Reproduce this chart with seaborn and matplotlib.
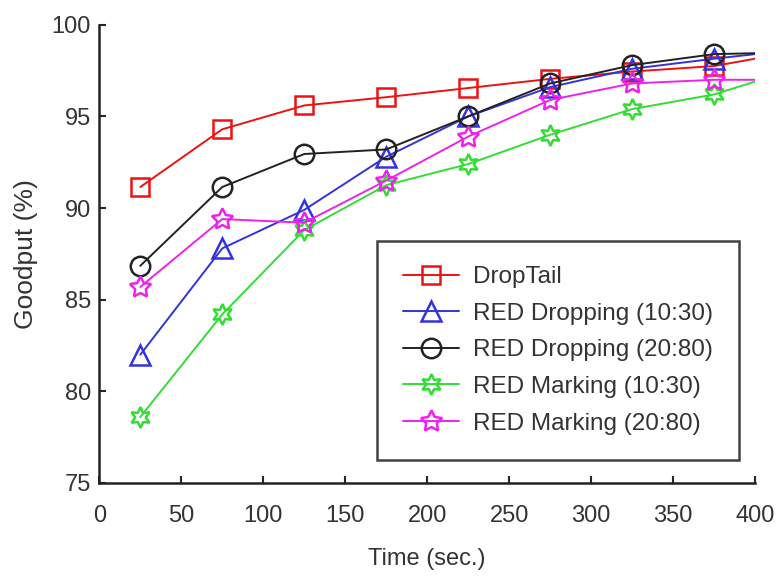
import matplotlib
matplotlib.use("Agg")
import matplotlib.pyplot as plt
from matplotlib.lines import Line2D
import seaborn as sns
import pandas as pd

# Goodput over time for each queue management scheme
time_sec = [25, 75, 125, 175, 225, 275, 325, 375, 400]
droptail = [91.15, 94.3, 95.6, 96.05, 96.55, 97.05, 97.45, 97.75, 98.15]
red_drop_10_30 = [82.0, 87.8, 89.9, 92.8, 95.0, 96.6, 97.6, 98.15, 98.4]
red_drop_20_80 = [86.85, 91.15, 92.95, 93.2, 95.0, 96.8, 97.8, 98.4, 98.45]
red_mark_10_30 = [78.6, 84.2, 88.8, 91.25, 92.4, 94.0, 95.4, 96.2, 96.9]
red_mark_20_80 = [85.7, 89.4, 89.2, 91.5, 93.9, 95.9, 96.8, 97.0, 97.0]

series_names = ["DropTail", "RED Dropping (10:30)", "RED Dropping (20:80)",
                "RED Marking (10:30)", "RED Marking (20:80)"]
series_values = [droptail, red_drop_10_30, red_drop_20_80,
                 red_mark_10_30, red_mark_20_80]

colors = ["#ee1111", "#3333dd", "#222222", "#33dd33", "#ee22ee"]
markers = ["s", "^", "o", (6, 1, 0), (5, 1, 0)]
msizes = [13, 14, 14, 15, 16]

sns.set_theme(style="ticks")
plt.rcParams["font.family"] = ["Liberation Sans", "DejaVu Sans"]
text_color = "#333333"

fig = plt.figure(figsize=(7.76, 5.77), dpi=100)
ax = fig.add_axes([0.128, 0.163, 0.845, 0.794])

handles = []
for name, vals, c, m, ms in zip(series_names, series_values, colors, markers, msizes):
    df = pd.DataFrame({"Time": time_sec, "Goodput": vals})
    sns.lineplot(data=df, x="Time", y="Goodput", ax=ax, color=c, lw=1.4,
                 marker=m, markersize=ms, markerfacecolor="none",
                 markeredgecolor=c, markeredgewidth=1.8,
                 markevery=list(range(len(vals) - 1)), legend=False)
    handles.append(Line2D([0], [0], color=c, lw=1.4, marker=m, markersize=ms,
                          markerfacecolor="none", markeredgecolor=c,
                          markeredgewidth=1.8, label=name))

ax.set_xlim(0, 400)
ax.set_ylim(75, 100)
ax.set_xticks(range(0, 401, 50))
ax.set_yticks(range(75, 101, 5))
ax.tick_params(direction="in", length=5, width=1.5, labelsize=17,
               labelcolor=text_color)
ax.tick_params(axis="x", pad=16)
ax.tick_params(axis="y", pad=6)
for side in ["left", "bottom"]:
    ax.spines[side].set_linewidth(1.8)
    ax.spines[side].set_color("#222222")
sns.despine(ax=ax)

ax.set_xlabel("Time (sec.)", fontsize=17, color=text_color, labelpad=15)
ax.set_ylabel("Goodput (%)", fontsize=19, color=text_color, labelpad=10)

leg = ax.legend(handles=handles, loc="lower left", bbox_to_anchor=(0.424, 0.05),
                borderaxespad=0, fontsize=17.5, numpoints=1, handlelength=2.3,
                handletextpad=0.6, labelspacing=0.6, borderpad=1.05,
                frameon=True, fancybox=False, labelcolor=text_color)
leg.get_frame().set_edgecolor("#111111")
leg.get_frame().set_linewidth(1.8)

fig.savefig("out.png", dpi=100, facecolor="white")
